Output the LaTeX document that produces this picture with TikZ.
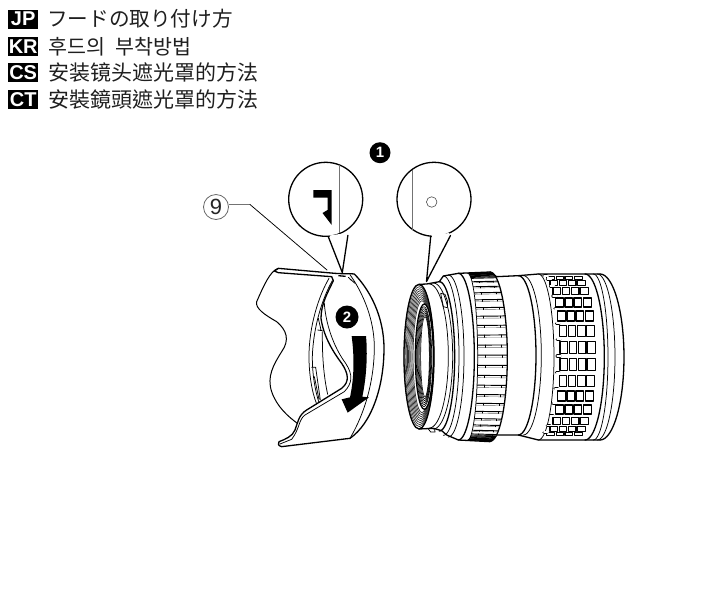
\documentclass[tikz,border=0pt]{standalone}
\usepackage{fontspec}
\setmainfont{Liberation Sans}
\newfontfamily\jpfont{Noto Sans CJK JP}
\newfontfamily\krfont{Noto Sans CJK KR}
\newfontfamily\scfont{Noto Sans CJK SC}
\newfontfamily\tcfont{Noto Sans CJK TC}
\newcommand{\halfarc}[5][]{\draw[#1] plot[domain=-90:90,samples=45,variable=\t,smooth] ({#2+#3*cos(\t)},{#4+#5*sin(\t)});}
\tikzset{
  badge/.style={fill=black,text=white,font=\bfseries\fontsize{20}{20}\selectfont,minimum width=30pt,minimum height=19pt,inner sep=0pt,anchor=west},
  heading/.style={anchor=west,inner sep=0pt,text=black!88},
  stepmark/.style={circle,fill=black,text=white,font=\bfseries\fontsize{15}{15}\selectfont,inner sep=0pt,minimum size=21pt},
  ln/.style={line width=1.3pt,line join=round,line cap=round},
  thinln/.style={line width=.75pt,line join=round,line cap=round},
  hair/.style={line width=.45pt},
  greyln/.style={line width=.9pt,draw=black!55}
}
\begin{document}
\begin{tikzpicture}[x=1pt,y=-1pt]
\useasboundingbox (0,0) rectangle (703,606);
\fill[white] (0,0) rectangle (703,606);
% headings
\node[badge] (jp) at (8,19) {JP};
\node[badge] (kr) at (8,46.5) {KR};
\node[badge] (cs) at (8,72.5) {CS};
\node[badge] (ct) at (8,99.5) {CT};
\node[heading,font=\jpfont\fontsize{20.6}{21}\selectfont] (tjp) at (47,19) {フードの取り付け方};
\node[heading,font=\krfont\fontsize{20.6}{21}\selectfont] (tkr) at (48,46.5) {후드의\hspace{.5em}부착방법};
\node[heading,font=\scfont\fontsize{21}{21}\selectfont] (tcs) at (48,72.5) {安装镜头遮光罩的方法};
\node[heading,font=\tcfont\fontsize{21}{21}\selectfont] (tct) at (48,99.5) {安裝鏡頭遮光罩的方法};
% step marks
\node[stepmark] (s1) at (380,152.7) {1};
% label 9 and its leader
\node[circle,draw=black!60,line width=.8pt,minimum size=25pt,inner sep=0pt,font=\fontsize{22}{22}\selectfont,text=black!85] (nine) at (216,207) {9};
\coordinate (leadbend) at (250,204.5);
\coordinate (leadend) at (327,270);
\draw[greyln] (nine.east |- leadbend) -- (leadbend);
\draw[thinln] (leadbend) -- (leadend);
% callout left
\draw[ln] (325.7,199.3) circle[radius=37];
\fill[white] (329.5,235.5) -- (346.8,233) -- (343,270) -- cycle;
\draw[ln] (328.3,236.7) -- (342.3,272.5) -- (347.9,235.3);
\draw[greyln] (339.3,165) -- (339.3,233);
\fill[black] (313.3,190) -- (331.7,190) -- (331.7,225) -- (322.5,213) -- (327.5,210) -- (327.5,197.7) -- (313.3,197.7) -- cycle;
% callout right
\draw[ln] (434,199.3) circle[radius=37];
\fill[white] (432,235) -- (449.5,233) -- (428,270) -- cycle;
\draw[ln] (430.7,236.5) -- (426.5,281.5) -- (450.5,235.5);
\draw[greyln] (412.7,169.5) -- (412.7,229.5);
\node[circle,draw=black!70,line width=.6pt,minimum size=10.5pt,inner sep=0pt] (dot) at (431.7,202) {};
% hood
\begin{scope}[shift={(235,260)},x=.3333pt,y=-.3333pt]
 \draw[ln,line width=1pt] (130,25) .. controls (105,32) and (85,80) .. (65,125) .. controls (60,145) and (90,165) .. (125,185) .. controls (155,210) and (165,240) .. (140,275) .. controls (115,315) and (95,350) .. (110,395) .. controls (125,440) and (160,470) .. (187,490);
 \draw[ln] (130,25) -- (300,40) .. controls (330,42) and (345,40) .. (358,42) .. controls (405,90) and (447,170) .. (447,265) .. controls (447,380) and (410,490) .. (345,535) -- (140,560) .. controls (130,558) and (127,550) .. (132,545) .. controls (150,538) and (172,530) .. (180,510) .. controls (188,490) and (190,465) .. (215,450) -- (320,385) .. controls (345,365) and (340,340) .. (320,310) .. controls (290,270) and (265,225) .. (258,175) .. controls (258,130) and (280,95) .. (295,62) -- (290,50) -- (130,38) -- (118,33) .. controls (122,30) and (125,27) .. (130,25);
 \draw[thinln] (282,55) .. controls (250,110) and (222,200) .. (222,290) .. controls (222,340) and (230,395) .. (245,432);
 \draw[thinln] (292,62) .. controls (262,115) and (235,200) .. (232,290) .. controls (232,345) and (240,390) .. (252,428);
 \draw[thinln] (268,130) .. controls (272,190) and (295,260) .. (332,310) .. controls (355,345) and (352,370) .. (328,395) -- (210,465) .. controls (190,480) and (195,505) .. (170,538) -- (135,552);
 \draw[thinln] (262,215) .. controls (262,260) and (262,330) .. (278,403);
 \draw[thinln] (248,210) -- (262,212) (250,175) -- (258,210) (230,322) -- (242,322) -- (256,420) (238,350) -- (252,418);
 \draw[thinln] (345,44) .. controls (385,100) and (418,180) .. (418,262) .. controls (418,350) and (395,450) .. (345,535);
 \draw[thinln] (340,52) -- (360,70) (345,58) -- (355,65);
 \draw[line width=1.3pt] (310,47) -- (332,49);
 \fill[black] (350,228) -- (393,228) .. controls (398,280) and (395,350) .. (382,410) -- (402,412) -- (338,458) -- (320,418) -- (345,412) .. controls (358,350) and (358,290) .. (350,228) -- cycle;
\end{scope}
\node[stepmark,minimum size=23pt] (s2) at (347,317) {2};
% lens
\begin{scope}[shift={(400,260)},x=.3333pt,y=-.3333pt]
 % front threads
 \foreach \i in {0,...,8}{
   \draw[hair,line width=.7pt,draw=black!80] ({57+\i*1.1},290) ellipse[x radius={45-\i*2.3},y radius={216-\i*6}];
 }
 \draw[ln] (57,290) ellipse[x radius=45,y radius=217];
 \fill[white] (73,290) ellipse[x radius=26,y radius=156];
 \draw[ln] (73,290) ellipse[x radius=27,y radius=158];
 \foreach \i in {0,...,5}{
   \draw[hair,line width=.6pt] ({72+\i*.6},290) ellipse[x radius={23-\i*2},y radius={150-\i*6}];
 }
 % silhouette
 \draw[ln] (57,73) -- (80,72) -- (118,65) -- (130,48) -- (175,40) -- (270,36) -- (290,50) -- (355,47) -- (415,42) -- (600,42);
 \draw[ln] (57,507) -- (100,505) -- (125,512) -- (140,525) -- (175,540) -- (270,545) -- (290,525) -- (355,525) -- (415,540) -- (600,540);
 \halfarc[ln]{600}{72}{291}{249}
 \halfarc[thinln]{88}{57}{288}{216}
 \halfarc[thinln]{100}{58}{288}{219}
 \halfarc[ln]{118}{46}{289}{224}
 \halfarc[thinln]{130}{47}{287}{239}
 \halfarc[thinln]{145}{47}{288}{243}
 \halfarc[ln]{175}{48}{290}{250}
 \halfarc[thinln]{203}{30}{290}{250}
 \halfarc[ln]{270}{52}{290}{254}
 \halfarc[ln]{355}{53}{286}{239}
 \halfarc[thinln]{370}{54}{286}{239}
 \halfarc[thinln]{415}{47}{291}{249}
 \halfarc[ln]{555}{58}{291}{249}
 \halfarc[thinln]{580}{44}{291}{249}
 \halfarc[thinln]{592}{53}{291}{249}
 % dark knurled ends of the grip
 \foreach \a in {-88,-86,-84,-82,-80,-78,-76,-74,-72,-70,70,72,74,76,78,80,82,84,86,88}{
   \pgfmathsetmacro{\cc}{cos(\a)}
   \pgfmathsetmacro{\ss}{sin(\a)}
   \draw[line width=.9pt] ({203+30*\cc},{290+250*\ss}) -- ({270+52*\cc},{290+252*\ss});
 }
 % grip ribs
 \foreach \a in {-64,-57,-50,-43,-36,-29,-22,-15,-8,-1,6,13,20,27,34,41,48,55,62,68}{
   \pgfmathsetmacro{\cc}{cos(\a)}
   \pgfmathsetmacro{\ss}{sin(\a)}
   \draw[line width=.95pt] ({203+30*\cc},{290+250*\ss}) -- ({270+52*\cc},{290+252*\ss});
   \draw[line width=.4pt,draw=black!60] ({203+30*\cc},{290+250*\ss+7*\cc}) -- ({270+52*\cc},{290+252*\ss+7*\cc});
   \draw[thinln] ({225+30*\cc},{290+250*\ss}) -- ({225+30*\cc},{290+250*\ss+7*\cc});
   \draw[thinln] ({258+48*\cc},{290+252*\ss}) -- ({258+48*\cc},{290+252*\ss+7*\cc});
 }
 % grid windows
 \foreach \a in {-78,-66,-54,-42,-30,-18,-6,6,18,30,42,54,66,78}{
   \pgfmathsetmacro{\cc}{cos(\a)}
   \pgfmathsetmacro{\ss}{sin(\a)}
   \pgfmathsetmacro{\yc}{288+240*\ss}
   \pgfmathsetmacro{\hh}{16.5*\cc+1}
   \foreach \xo/\xe in {430/453,458/480,485/508,513/537}{
     \draw[line width=1.25pt,line join=round] ({\xo+50*\cc},{\yc-\hh}) rectangle ({\xe+50*\cc},{\yc+\hh});
   }
   \pgfmathsetmacro{\by}{\yc-\hh-7.5*\cc}
   \draw[line width=3.4pt,line cap=round] ({422+50*\cc},\by) -- ({430+50*\cc},\by);
   \draw[line width=1.9pt,line cap=round,draw=white] ({422+50*\cc},\by) -- ({434+50*\cc},\by);
 }
 % mount notch and tab
 \draw[thinln] (122,100) -- (135,103) -- (143,125) -- (142,143) -- (130,140) -- (122,100);
 \draw[thinln] (85,507) -- (92,516) -- (105,516) -- (104,508);
\end{scope}
\end{tikzpicture}
\end{document}
